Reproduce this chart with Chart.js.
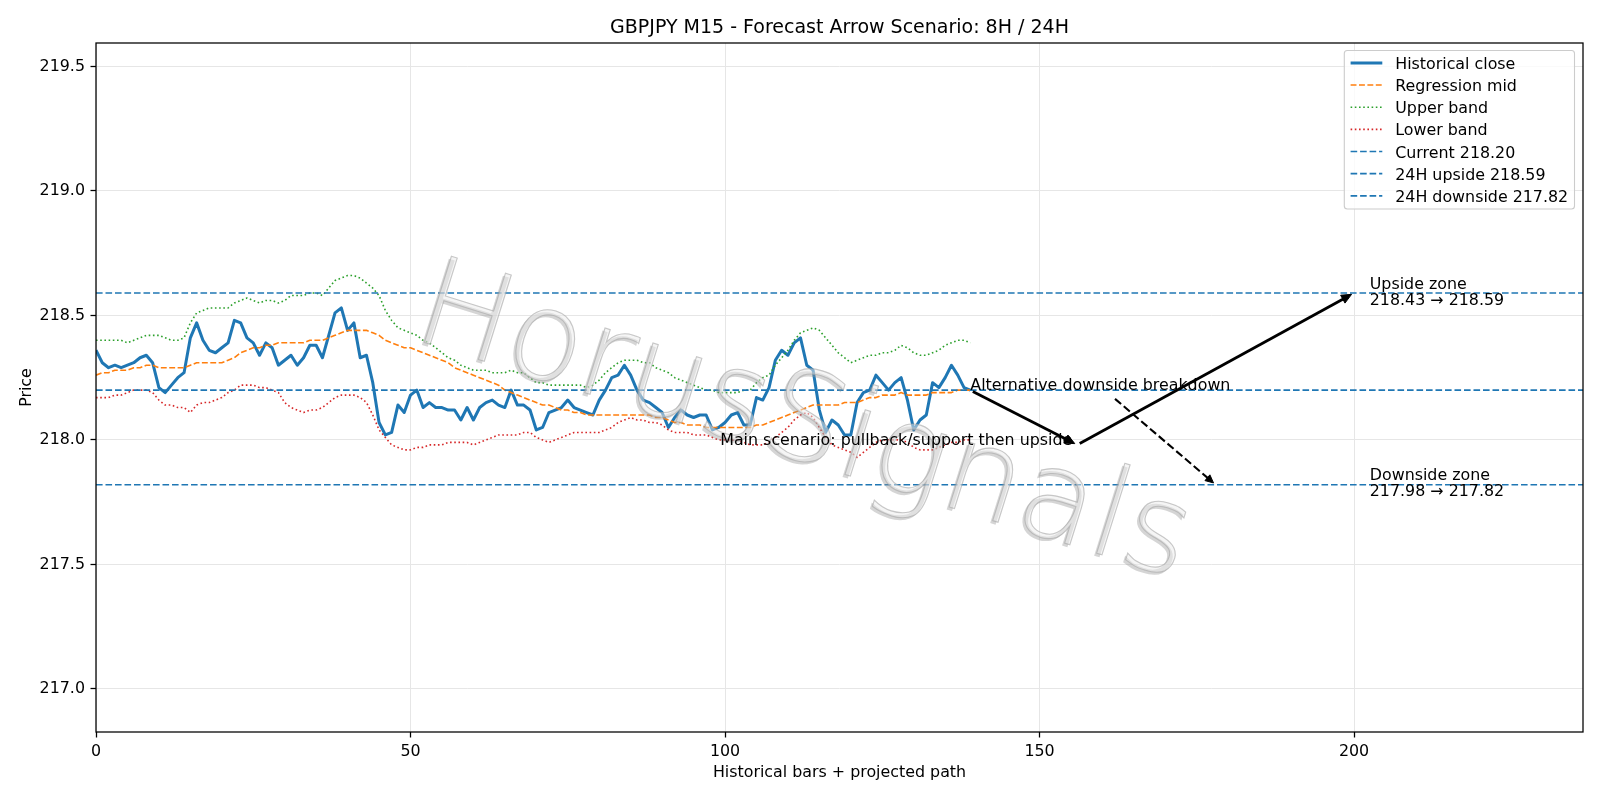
<!DOCTYPE html>
<html>
<head>
<meta charset="utf-8">
<script src="https://cdn.jsdelivr.net/npm/chart.js@4.4.1/dist/chart.umd.min.js"></script>
<style>
html,body{margin:0;padding:0;background:#fff;}
#wrap{width:1600px;height:800px;position:relative;}
canvas{display:block;}
</style>
</head>
<body>
<div id="wrap"><canvas id="c" width="1600" height="800"></canvas></div>
<script>
// ---------------- data ----------------
const historicalClose = [
 218.36,218.31,218.29,218.30,218.29,218.30,218.31,218.33,218.34,218.31,
 218.21,218.19,218.22,218.25,218.27,218.41,218.47,218.40,218.36,218.35,
 218.37,218.39,218.48,218.47,218.41,218.39,218.34,218.39,218.37,218.30,
 218.32,218.34,218.30,218.33,218.38,218.38,218.33,218.42,218.51,218.53,
 218.44,218.47,218.33,218.34,218.23,218.07,218.02,218.03,218.14,218.11,
 218.18,218.20,218.13,218.15,218.13,218.13,218.12,218.12,218.08,218.13,
 218.08,218.13,218.15,218.16,218.14,218.13,218.20,218.14,218.14,218.12,
 218.04,218.05,218.11,218.12,218.13,218.16,218.13,218.12,218.11,218.10,
 218.16,218.20,218.25,218.26,218.30,218.26,218.20,218.16,218.15,218.13,
 218.11,218.05,218.09,218.12,218.10,218.09,218.10,218.10,218.04,218.05,
 218.07,218.10,218.11,218.06,218.06,218.17,218.16,218.21,218.32,218.36,
 218.34,218.39,218.41,218.30,218.28,218.12,218.03,218.08,218.06,218.02,
 218.02,218.15,218.19,218.20,218.26,218.23,218.20,218.23,218.25,218.16,
 218.04,218.08,218.10,218.23,218.21,218.25,218.30,218.26,218.21,218.20
];
const regressionMid = [
 218.26,218.27,218.27,218.28,218.28,218.28,218.29,218.29,218.30,218.30,
 218.29,218.29,218.29,218.29,218.29,218.30,218.31,218.31,218.31,218.31,
 218.31,218.32,218.33,218.35,218.36,218.37,218.37,218.38,218.38,218.39,
 218.39,218.39,218.39,218.39,218.40,218.40,218.40,218.41,218.42,218.43,
 218.44,218.44,218.44,218.44,218.43,218.42,218.40,218.39,218.38,218.37,
 218.37,218.36,218.35,218.34,218.33,218.32,218.31,218.29,218.28,218.27,
 218.26,218.25,218.24,218.23,218.22,218.20,218.19,218.18,218.17,218.16,
 218.15,218.14,218.14,218.13,218.12,218.12,218.11,218.11,218.10,218.10,
 218.10,218.10,218.10,218.10,218.10,218.10,218.10,218.10,218.10,218.09,
 218.09,218.08,218.07,218.07,218.06,218.06,218.06,218.05,218.05,218.05,
 218.05,218.05,218.05,218.05,218.05,218.06,218.06,218.07,218.08,218.09,
 218.10,218.11,218.12,218.13,218.14,218.14,218.14,218.14,218.14,218.15,
 218.15,218.15,218.16,218.17,218.17,218.18,218.18,218.18,218.19,218.18,
 218.18,218.18,218.18,218.19,218.19,218.19,218.19,218.20,218.20,218.20
];
const upperBand = [
 218.40,218.40,218.40,218.40,218.40,218.39,218.40,218.41,218.42,218.42,
 218.42,218.41,218.40,218.40,218.41,218.47,218.51,218.52,218.53,218.53,
 218.53,218.53,218.55,218.56,218.57,218.56,218.55,218.56,218.56,218.55,
 218.56,218.58,218.58,218.58,218.59,218.59,218.58,218.61,218.64,218.65,
 218.66,218.66,218.65,218.63,218.61,218.58,218.52,218.48,218.45,218.44,
 218.43,218.42,218.40,218.39,218.37,218.35,218.33,218.32,218.30,218.29,
 218.28,218.28,218.28,218.27,218.27,218.27,218.28,218.27,218.27,218.25,
 218.23,218.23,218.22,218.22,218.22,218.22,218.22,218.22,218.21,218.22,
 218.24,218.27,218.29,218.31,218.32,218.32,218.32,218.31,218.31,218.29,
 218.28,218.27,218.25,218.24,218.23,218.22,218.21,218.20,218.20,218.19,
 218.19,218.19,218.19,218.20,218.20,218.23,218.25,218.26,218.30,218.33,
 218.36,218.40,218.43,218.44,218.45,218.44,218.41,218.38,218.35,218.33,
 218.31,218.32,218.33,218.34,218.34,218.35,218.35,218.36,218.38,218.37,
 218.35,218.34,218.34,218.35,218.36,218.38,218.39,218.40,218.40,218.39
];
const lowerBand = [
 218.17,218.17,218.17,218.18,218.18,218.19,218.20,218.20,218.20,218.19,
 218.16,218.14,218.14,218.13,218.13,218.11,218.14,218.15,218.15,218.16,
 218.17,218.19,218.20,218.22,218.22,218.22,218.21,218.21,218.20,218.19,
 218.15,218.13,218.12,218.11,218.12,218.12,218.13,218.15,218.17,218.18,
 218.18,218.18,218.17,218.15,218.10,218.04,218.01,217.98,217.97,217.96,
 217.96,217.97,217.97,217.98,217.98,217.98,217.99,217.99,217.99,217.99,
 217.98,217.99,218.00,218.01,218.02,218.02,218.02,218.02,218.03,218.03,
 218.01,218.00,217.99,218.00,218.01,218.02,218.03,218.03,218.03,218.03,
 218.03,218.04,218.05,218.07,218.08,218.09,218.08,218.08,218.07,218.07,
 218.06,218.04,218.03,218.03,218.03,218.02,218.02,218.02,218.01,218.00,
 218.00,218.00,218.00,217.99,217.98,217.98,217.98,217.99,218.01,218.03,
 218.05,218.08,218.10,218.11,218.09,218.05,218.01,217.98,217.97,217.96,
 217.95,217.93,217.95,217.97,217.99,218.00,218.00,218.00,218.00,217.99,
 217.97,217.96,217.96,217.96,217.97,217.98,217.99,217.99,218.00,218.00
];
const levelCurrent = 218.20;
const levelUpside = 218.59;
const levelDownside = 217.82;
const upsideFrom = 218.43;
const downsideFrom = 217.98;

// projected paths (data coordinates)
const mainPathX = [139, 156, 200];
const mainPathY = [218.20, 217.98, 218.59];
const altPathX = [162, 178];
const altPathY = [218.165, 217.82];
const zoneLabelX = 202.5;

// axis ranges and ticks
const X_MIN = 0, X_MAX = 236.4, X_STEP = 50;
const Y_MIN = 216.827, Y_MAX = 219.594, Y_STEP = 0.5;

const TITLE = 'GBPJPY M15 - Forecast Arrow Scenario: 8H / 24H';
const X_TITLE = 'Historical bars + projected path';
const Y_TITLE = 'Price';
const WATERMARK = 'HorusSignals';
const MAIN_TEXT = 'Main scenario: pullback/support then upside';
const ALT_TEXT = 'Alternative downside breakdown';

// ---------------- chart ----------------
const FONT = '"DejaVu Sans", "Liberation Sans", sans-serif';
const FS = 15.87;
const C_BLUE = '#1f77b4', C_ORANGE = '#ff7f0e', C_GREEN = '#2ca02c', C_RED = '#d62728';

const toXY = arr => arr.map((v, i) => ({x: i, y: v}));
const hline = v => [{x: X_MIN, y: v}, {x: X_MAX, y: v}];

const datasets = [
  {label: 'Historical close', data: toXY(historicalClose), borderColor: C_BLUE, borderWidth: 3, borderDash: [], order: 6},
  {label: 'Regression mid', data: toXY(regressionMid), borderColor: C_ORANGE, borderWidth: 1.6, borderDash: [5.9, 2.5], order: 5},
  {label: 'Upper band', data: toXY(upperBand), borderColor: C_GREEN, borderWidth: 1.6, borderDash: [1.6, 2.6], order: 4},
  {label: 'Lower band', data: toXY(lowerBand), borderColor: C_RED, borderWidth: 1.6, borderDash: [1.6, 2.6], order: 3},
  {label: 'Current ' + levelCurrent.toFixed(2), data: hline(levelCurrent), borderColor: C_BLUE, borderWidth: 1.7, borderDash: [6.6, 2.9], order: 2},
  {label: '24H upside ' + levelUpside.toFixed(2), data: hline(levelUpside), borderColor: C_BLUE, borderWidth: 1.7, borderDash: [6.6, 2.9], order: 1},
  {label: '24H downside ' + levelDownside.toFixed(2), data: hline(levelDownside), borderColor: C_BLUE, borderWidth: 1.7, borderDash: [6.6, 2.9], order: 0}
].map(d => Object.assign({pointRadius: 0, pointHoverRadius: 0, fill: false, tension: 0, borderCapStyle: 'butt', borderJoinStyle: 'round'}, d));

function drawArrow(ctx, x1, y1, x2, y2, o) {
  const dx = x2 - x1, dy = y2 - y1, L = Math.hypot(dx, dy);
  const ux = dx / L, uy = dy / L;
  const sx = x1 + ux * o.shrinkA, sy = y1 + uy * o.shrinkA;
  const ex = x2 - ux * o.shrinkB, ey = y2 - uy * o.shrinkB;
  const bx = ex - ux * o.headLen, by = ey - uy * o.headLen;
  ctx.save();
  ctx.strokeStyle = '#000'; ctx.fillStyle = '#000';
  ctx.lineWidth = o.lw; ctx.lineCap = 'butt';
  ctx.setLineDash(o.dash || []);
  ctx.beginPath(); ctx.moveTo(sx, sy); ctx.lineTo(bx + ux * 1, by + uy * 1); ctx.stroke();
  ctx.setLineDash([]);
  ctx.lineWidth = 1; ctx.lineJoin = 'miter';
  ctx.beginPath();
  ctx.moveTo(ex, ey);
  ctx.lineTo(bx - uy * o.headW, by + ux * o.headW);
  ctx.lineTo(bx + uy * o.headW, by - ux * o.headW);
  ctx.closePath(); ctx.fill(); ctx.stroke();
  ctx.restore();
}

const overlay = {
  id: 'overlay',
  beforeDraw(chart) {
    const ctx = chart.ctx;
    ctx.save(); ctx.fillStyle = '#fff'; ctx.fillRect(0, 0, chart.width, chart.height); ctx.restore();
  },
  afterDatasetsDraw(chart) {
    const ctx = chart.ctx, a = chart.chartArea;
    const X = v => chart.scales.x.getPixelForValue(v);
    const Y = v => chart.scales.y.getPixelForValue(v);

    // watermark
    ctx.save();
    ctx.beginPath(); ctx.rect(a.left, a.top, a.right - a.left, a.bottom - a.top); ctx.clip();
    ctx.font = '200 124px "DejaVu Sans ExtraLight", "DejaVu Sans", sans-serif';
    ctx.textAlign = 'left'; ctx.textBaseline = 'alphabetic';
    const ox = a.left + 314, oy = a.top + 295;
    const ang = 17.4 * Math.PI / 180;
    ctx.save(); ctx.translate(ox - 2.5, oy + 2.5); ctx.rotate(ang);
    ctx.fillStyle = 'rgba(150,150,150,0.40)'; ctx.fillText(WATERMARK, 0, 0); ctx.restore();
    ctx.save(); ctx.translate(ox, oy); ctx.rotate(ang);
    ctx.fillStyle = 'rgba(235,235,235,0.5)'; ctx.fillText(WATERMARK, 0, 0);
    ctx.strokeStyle = 'rgba(165,165,165,0.6)'; ctx.lineWidth = 1.1; ctx.strokeText(WATERMARK, 0, 0);
    ctx.restore();
    ctx.restore();

    // annotation texts
    ctx.save();
    ctx.fillStyle = '#000';
    ctx.font = FS + 'px ' + FONT;
    ctx.textBaseline = 'alphabetic';
    ctx.textAlign = 'left';
    ctx.fillText(ALT_TEXT, X(mainPathX[0]), Y(mainPathY[0]));
    ctx.textAlign = 'right';
    ctx.fillText(MAIN_TEXT, X(mainPathX[1]) - 5, Y(mainPathY[1]));
    ctx.textAlign = 'left';
    const zx = X(zoneLabelX);
    ctx.fillText('Upside zone', zx, Y(levelUpside) - 4.4);
    ctx.fillText(upsideFrom.toFixed(2) + ' \u2192 ' + levelUpside.toFixed(2), zx, Y(levelUpside) + 11.6);
    ctx.fillText('Downside zone', zx, Y(levelDownside) - 4.4);
    ctx.fillText(downsideFrom.toFixed(2) + ' \u2192 ' + levelDownside.toFixed(2), zx, Y(levelDownside) + 11.6);
    ctx.restore();

    // arrows
    for (let i = 0; i < mainPathX.length - 1; i++) {
      drawArrow(ctx, X(mainPathX[i]), Y(mainPathY[i]), X(mainPathX[i + 1]), Y(mainPathY[i + 1]),
        {lw: 2.8, shrinkA: 2.8, shrinkB: 2.8, headLen: 10, headW: 4.5});
    }
    drawArrow(ctx, X(altPathX[0]), Y(altPathY[0]), X(altPathX[1]), Y(altPathY[1]),
      {lw: 2.1, dash: [8, 3.5], shrinkA: 0, shrinkB: 2.8, headLen: 8, headW: 3.8});
  },
  afterDraw(chart) {
    const ctx = chart.ctx, a = chart.chartArea;
    // axes frame
    ctx.save();
    ctx.strokeStyle = '#000'; ctx.lineWidth = 1.27;
    ctx.strokeRect(a.left, a.top, a.right - a.left, a.bottom - a.top);
    ctx.restore();

    // title and axis titles
    ctx.save();
    ctx.fillStyle = '#000';
    ctx.textAlign = 'center'; ctx.textBaseline = 'alphabetic';
    ctx.font = '19px ' + FONT;
    ctx.fillText(TITLE, (a.left + a.right) / 2, 32.8);
    ctx.font = FS + 'px ' + FONT;
    ctx.fillText(X_TITLE, (a.left + a.right) / 2, 777);
    ctx.translate(30.5, (a.top + a.bottom) / 2);
    ctx.rotate(-Math.PI / 2);
    ctx.fillText(Y_TITLE, 0, 0);
    ctx.restore();

    // legend (upper right, inside axes)
    const ds = chart.data.datasets;
    const lx = 1344.3, ly = 50.5, lw = 230.2, lh = 158.5;
    ctx.save();
    ctx.beginPath();
    ctx.roundRect(lx, ly, lw, lh, 3);
    ctx.fillStyle = 'rgba(255,255,255,0.8)'; ctx.fill();
    ctx.strokeStyle = '#cccccc'; ctx.lineWidth = 1.1; ctx.stroke();
    ctx.font = FS + 'px ' + FONT;
    ctx.textAlign = 'left'; ctx.textBaseline = 'alphabetic';
    ds.forEach((d, k) => {
      const cy = 62.9 + k * 22.15;
      ctx.save();
      ctx.strokeStyle = d.borderColor; ctx.lineWidth = d.borderWidth;
      ctx.setLineDash(d.borderDash || []); ctx.lineCap = 'butt';
      ctx.beginPath(); ctx.moveTo(1350.6, cy); ctx.lineTo(1382.3, cy); ctx.stroke();
      ctx.restore();
      ctx.fillStyle = '#000';
      ctx.fillText(d.label, 1395.2, cy + 6);
    });
    ctx.restore();
  }
};

Chart.defaults.font.family = FONT;
Chart.defaults.font.size = FS;
Chart.defaults.color = '#000';

new Chart(document.getElementById('c'), {
  type: 'line',
  data: {datasets: datasets},
  options: {
    responsive: false,
    animation: false,
    devicePixelRatio: 1,
    layout: {padding: {top: 43, right: 17, bottom: 0, left: 0}},
    plugins: {legend: {display: false}, title: {display: false}, tooltip: {enabled: false}},
    events: [],
    scales: {
      x: {
        type: 'linear', min: X_MIN, max: X_MAX,
        ticks: {stepSize: X_STEP, includeBounds: false, autoSkip: false, maxRotation: 0, padding: 5.3,
                color: '#000', font: {size: FS}, callback: v => String(v)},
        grid: {color: '#e6e6e6', lineWidth: 1, tickColor: '#000', tickLength: 5.5, tickWidth: 1.27, drawTicks: true},
        border: {display: false},
        afterFit: s => { s.height = 68; }
      },
      y: {
        type: 'linear', min: Y_MIN, max: Y_MAX,
        ticks: {stepSize: Y_STEP, includeBounds: false, autoSkip: false, padding: 5.5,
                color: '#000', font: {size: FS}, callback: v => Number(v).toFixed(1)},
        grid: {color: '#e6e6e6', lineWidth: 1, tickColor: '#000', tickLength: 5.5, tickWidth: 1.27, drawTicks: true},
        border: {display: false},
        afterFit: s => { s.width = 96; }
      }
    }
  },
  plugins: [overlay]
});
</script>
</body>
</html>
